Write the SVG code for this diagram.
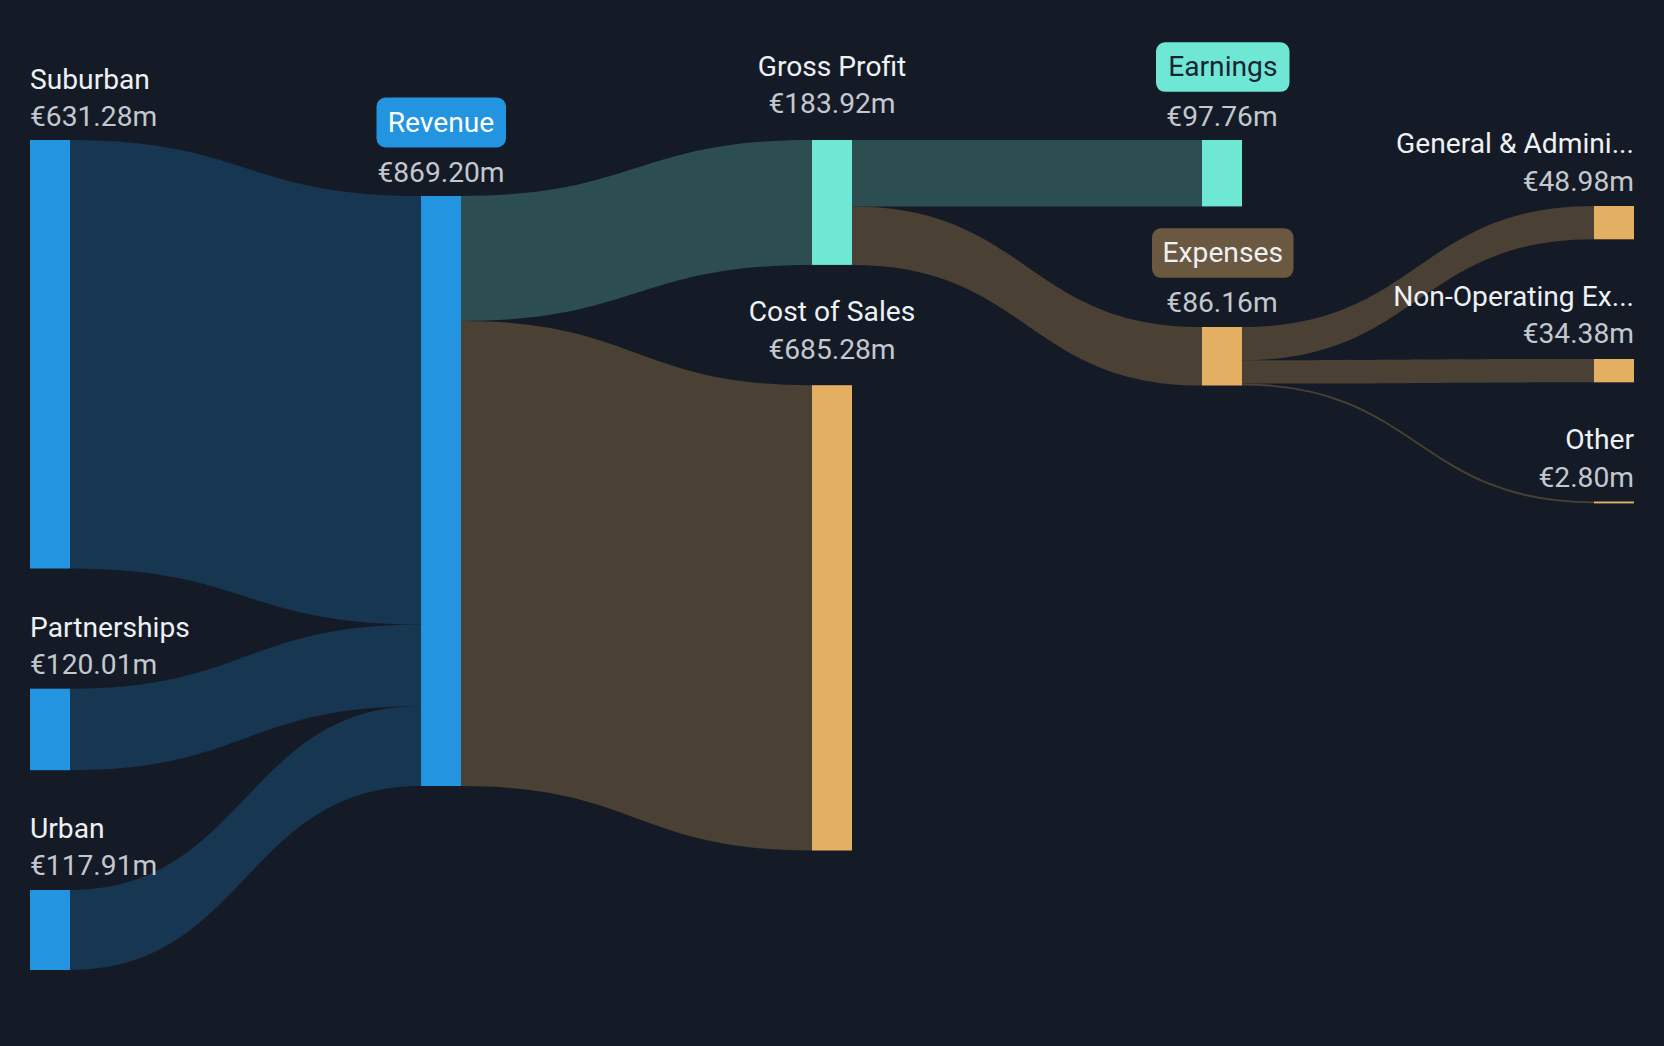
<svg xmlns="http://www.w3.org/2000/svg" width="1664" height="1046" viewBox="0 0 1664 1046">
<style>
.bg{fill:#151b26}
.lb{font-family:Roboto,"Liberation Sans",sans-serif;font-size:28.2px;fill:#eef1f4}
.vl{font-family:Roboto,"Liberation Sans",sans-serif;font-size:28.2px;fill:#c3c8cf}
.mid{text-anchor:middle}
.end{text-anchor:end}
.blue{fill:#2394e0}
.teal{fill:#6ee8d5}
.org{fill:#e3af63}
.lblue{fill:#173651}
.lteal{fill:#2d4e51}
.lbrown{fill:#4a4034}
</style>
<rect class="bg" x="0" y="0" width="1664" height="1046"/>
<g id="links">
<path class="lblue" d="M70,140 C245.5,140 245.5,196 421,196 L421,624.5 C245.5,624.5 245.5,568.5 70,568.5 Z"/>
<path class="lblue" d="M70,688.7 C245.5,688.7 245.5,624.5 421,624.5 L421,706 C245.5,706 245.5,770.2 70,770.2 Z"/>
<path class="lblue" d="M70,890 C245.5,890 245.5,706 421,706 L421,786 C245.5,786 245.5,970 70,970 Z"/>
<path class="lteal" d="M461,196 C636.5,196 636.5,140 812,140 L812,264.9 C636.5,264.9 636.5,320.9 461,320.9 Z"/>
<path class="lbrown" d="M461,320.9 C636.5,320.9 636.5,385.2 812,385.2 L812,850.5 C636.5,850.5 636.5,786 461,786 Z"/>
<path class="lteal" d="M852,140 L1202,140 L1202,206.4 L852,206.4 Z"/>
<path class="lbrown" d="M852,206.4 C1027,206.4 1027,327 1202,327 L1202,385.5 C1027,385.5 1027,264.9 852,264.9 Z"/>
<path class="lbrown" d="M1242,327 C1418,327 1418,206 1594,206 L1594,239.3 C1418,239.3 1418,360.3 1242,360.3 Z"/>
<path class="lbrown" d="M1242,360.3 C1418,360.3 1418,359 1594,359 L1594,382.3 C1418,382.3 1418,383.6 1242,383.6 Z"/>
<path d="M1242,384.5 C1418,384.5 1418,502.4 1594,502.4" fill="none" stroke="#4a4034" stroke-width="1.9"/>
</g>
<g id="suburban">
<rect class="blue" x="30" y="140" width="40" height="428.5"/>
<text class="lb" x="30" y="88.5">Suburban</text>
<text class="vl" x="30" y="126">€631.28m</text>
</g>
<g id="partnerships">
<rect class="blue" x="30" y="688.7" width="40" height="81.5"/>
<text class="lb" x="30" y="636.5">Partnerships</text>
<text class="vl" x="30" y="673.5">€120.01m</text>
</g>
<g id="urban">
<rect class="blue" x="30" y="890" width="40" height="80"/>
<text class="lb" x="30" y="837.5">Urban</text>
<text class="vl" x="30" y="875">€117.91m</text>
</g>
<g id="revenue">
<rect class="blue" x="421" y="196" width="40" height="590"/>
<rect class="blue" x="376.5" y="97.5" width="129.5" height="50" rx="9"/>
<text class="lb mid" x="441" y="131.5" style="fill:#ffffff">Revenue</text>
<text class="vl mid" x="441" y="181.5">€869.20m</text>
</g>
<g id="gross-profit">
<rect class="teal" x="812" y="140" width="40" height="124.9"/>
<text class="lb mid" x="832" y="75.7">Gross Profit</text>
<text class="vl mid" x="832" y="113.3">€183.92m</text>
</g>
<g id="cost-of-sales">
<rect class="org" x="812" y="385.2" width="40" height="465.3"/>
<text class="lb mid" x="832" y="321">Cost of Sales</text>
<text class="vl mid" x="832" y="359">€685.28m</text>
</g>
<g id="earnings">
<rect class="teal" x="1202" y="140" width="40" height="66.4"/>
<rect class="teal" x="1156" y="42.3" width="133.5" height="49.5" rx="9"/>
<text class="lb mid" x="1222.8" y="76" style="fill:#1b2433">Earnings</text>
<text class="vl mid" x="1222" y="126">€97.76m</text>
</g>
<g id="expenses">
<rect class="org" x="1202" y="327" width="40" height="58.5"/>
<rect x="1152" y="228.3" width="141.5" height="49.5" rx="9" fill="#6b5840"/>
<text class="lb mid" x="1222.8" y="261.7">Expenses</text>
<text class="vl mid" x="1222" y="311.7">€86.16m</text>
</g>
<g id="general-admin">
<rect class="org" x="1594" y="206" width="40" height="33.3"/>
<text class="lb end" x="1634" y="152.7">General &amp; Admini...</text>
<text class="vl end" x="1634" y="190.7">€48.98m</text>
</g>
<g id="non-operating">
<rect class="org" x="1594" y="359" width="40" height="23.3"/>
<text class="lb end" x="1634" y="306">Non-Operating Ex...</text>
<text class="vl end" x="1634" y="343.3">€34.38m</text>
</g>
<g id="other">
<rect class="org" x="1594" y="501.5" width="40" height="1.9"/>
<text class="lb end" x="1634" y="449.3">Other</text>
<text class="vl end" x="1634" y="487.3">€2.80m</text>
</g>
</svg>
